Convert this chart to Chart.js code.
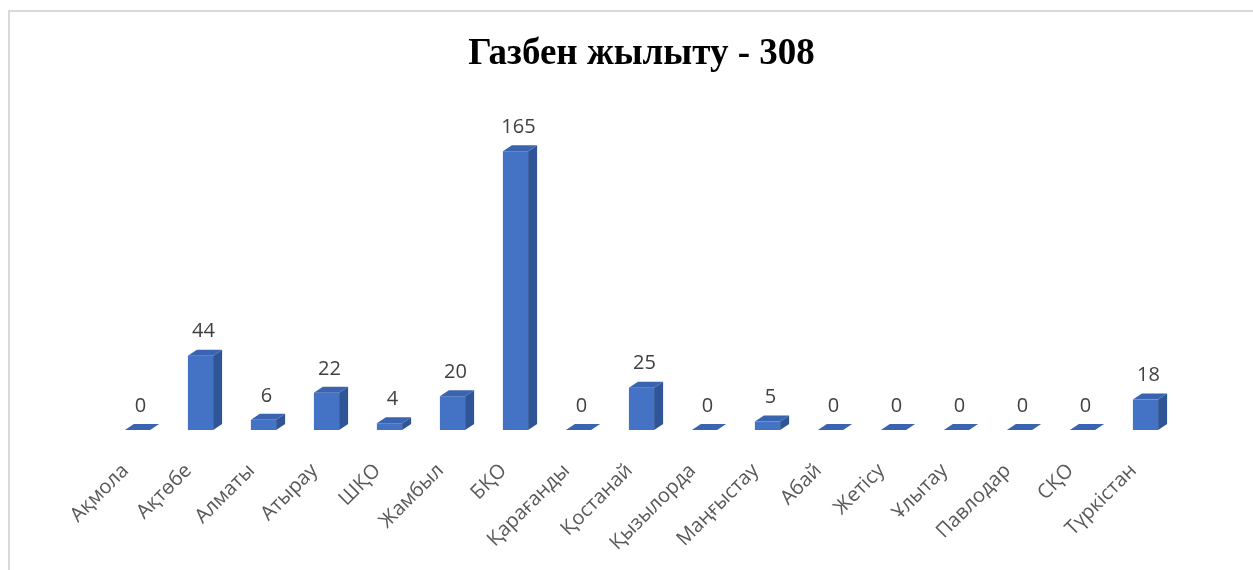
<!DOCTYPE html>
<html>
<head>
<meta charset="utf-8">
<script src="https://cdn.jsdelivr.net/npm/chart.js@4.4.1/dist/chart.umd.min.js"></script>
<style>
  body { margin: 0; background: #fff; }
  #wrap { position: relative; width: 1253px; height: 570px; }
  #frame {
    position: absolute; left: 8px; top: 10px; right: 0; bottom: 0;
    border-top: 2px solid #d9d9d9; border-left: 2px solid #d9d9d9;
  }
  canvas { position: absolute; left: 0; top: 0; }
</style>
</head>
<body>
<div id="wrap">
  <div id="frame"></div>
  <canvas id="myChart" width="1253" height="570"></canvas>
</div>
<script>
// данные с картинки
const chartTitle = 'Газбен жылыту - 308';
const regions = ['Ақмола', 'Ақтөбе', 'Алматы', 'Атырау', 'ШҚО', 'Жамбыл', 'БҚО', 'Қарағанды',
    'Қостанай', 'Қызылорда', 'Маңғыстау', 'Абай', 'Жетісу', 'Ұлытау', 'Павлодар', 'СҚО', 'Түркістан'];
const values = [0, 44, 6, 22, 4, 20, 165, 0, 25, 0, 5, 0, 0, 0, 0, 0, 18];

const FRONT = '#4472c4';
const SIDE = '#2f5597';
const TOP = '#3a63b0';
const DX = 9, DY = -6; // глубина "3D"

// рисует боковую и верхнюю грани столбцов
const bars3d = {
    id: 'bars3d',
    afterDatasetsDraw(chart) {
        const ctx = chart.ctx;
        const meta = chart.getDatasetMeta(0);
        ctx.save();
        meta.data.forEach(bar => {
            const x0 = bar.x - bar.width / 2;
            const x1 = bar.x + bar.width / 2;
            const top = bar.y;
            const base = bar.base;

            ctx.fillStyle = SIDE;
            ctx.beginPath();
            ctx.moveTo(x1, base);
            ctx.lineTo(x1 + DX, base + DY);
            ctx.lineTo(x1 + DX, top + DY);
            ctx.lineTo(x1, top);
            ctx.closePath();
            ctx.fill();

            ctx.fillStyle = TOP;
            ctx.beginPath();
            ctx.moveTo(x0, top);
            ctx.lineTo(x0 + DX, top + DY);
            ctx.lineTo(x1 + DX, top + DY);
            ctx.lineTo(x1, top);
            ctx.closePath();
            ctx.fill();
        });
        ctx.restore();
    }
};

// подписи значений над столбцами
const valueLabels = {
    id: 'valueLabels',
    afterDatasetsDraw(chart) {
        const ctx = chart.ctx;
        const meta = chart.getDatasetMeta(0);
        ctx.save();
        ctx.font = '20px "Open Sans"';
        ctx.fillStyle = '#404040';
        ctx.textAlign = 'center';
        ctx.textBaseline = 'middle';
        meta.data.forEach((bar, i) => {
            ctx.fillText(values[i], bar.x + 3, bar.y - 24);
        });
        ctx.restore();
    }
};

const ctx = document.getElementById('myChart').getContext('2d');
const chart = new Chart(ctx, {
    type: 'bar',
    data: {
        labels: regions,
        datasets: [{
            data: values,
            backgroundColor: FRONT,
            borderWidth: 0,
            barPercentage: 0.4,
            categoryPercentage: 1,
        }],
    },
    options: {
        responsive: false,
        animation: false,
        layout: {
            padding: { left: 106, right: 76, top: 0, bottom: 0 },
        },
        plugins: {
            legend: { display: false },
            tooltip: { enabled: false },
            title: {
                display: true,
                text: chartTitle,
                color: '#000',
                font: { family: '"Liberation Serif", "Times New Roman", serif', size: 37, weight: 'bold', lineHeight: 1.2 },
                padding: { top: 32, bottom: 49.6 },
            },
        },
        scales: {
            x: {
                grid: { display: false, drawTicks: false },
                border: { display: false },
                ticks: {
                    color: '#595959',
                    font: { family: '"Open Sans"', size: 20 },
                    maxRotation: 45,
                    minRotation: 45,
                    autoSkip: false,
                    padding: 29,
                    labelOffset: -12,
                },
                afterFit: (axis) => { axis.height = 140; },
            },
            y: {
                display: false,
                min: 0,
                max: 180,
            },
        },
    },
    plugins: [bars3d, valueLabels],
});
</script>
</body>
</html>
